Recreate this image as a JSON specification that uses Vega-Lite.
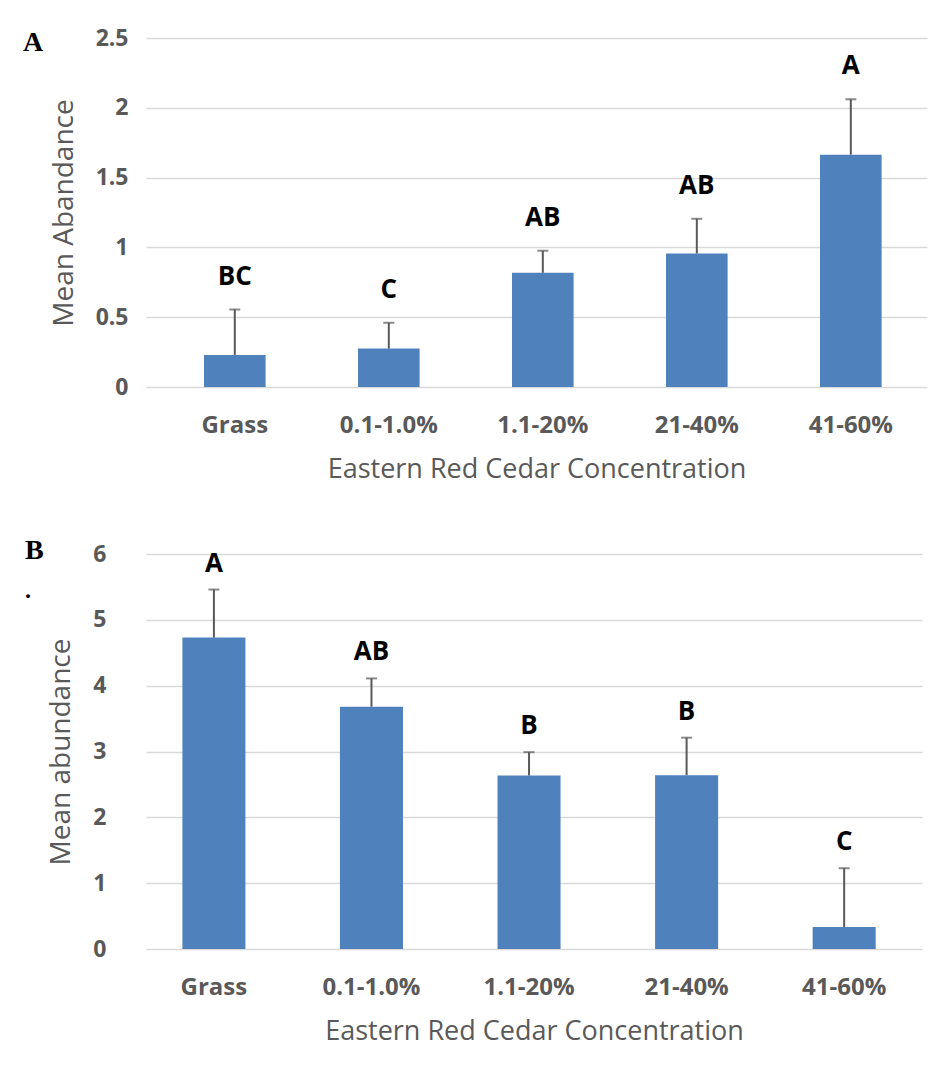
{
  "$schema": "https://vega.github.io/schema/vega-lite/v6.json",
  "background": "white",
  "padding": {"left": 23, "top": 27, "right": 5, "bottom": 5},
  "config": {
    "view": {"stroke": null},
    "font": "Open Sans",
    "axisX": {"domain": false, "ticks": false, "labelAngle": 0, "labelFont": "Open Sans", "labelFontWeight": "bold", "labelFontSize": 24, "labelColor": "#595959", "labelPadding": 26, "titleFont": "Open Sans", "titleFontWeight": "normal", "titleFontSize": 27, "titleColor": "#595959", "titlePadding": 19, "grid": false},
    "axisY": {"domain": false, "ticks": false, "grid": true, "gridColor": "#d9d9d9", "gridWidth": 1.5, "labelFont": "Open Sans", "labelFontWeight": "bold", "labelFontSize": 23, "labelColor": "#595959", "titleFont": "Open Sans", "titleFontWeight": "normal", "titleFontSize": 28, "titleColor": "#595959", "titlePadding": 17}
  },
  "vconcat": [
    {
      "width": 781,
      "height": 349,
      "title": {"text": "A", "anchor": "start", "frame": "group", "font": "Liberation Serif", "fontSize": 28, "fontWeight": "bold", "color": "black", "dx": -123, "baseline": "alphabetic", "offset": 0, "dy": 52},
      "data": {"values": [
        {"conc": "Grass", "mean": 0.23, "upper": 0.555, "letter": "BC"},
        {"conc": "0.1-1.0%", "mean": 0.275, "upper": 0.46, "letter": "C"},
        {"conc": "1.1-20%", "mean": 0.818, "upper": 0.976, "letter": "AB"},
        {"conc": "21-40%", "mean": 0.956, "upper": 1.205, "letter": "AB"},
        {"conc": "41-60%", "mean": 1.664, "upper": 2.061, "letter": "A"}
      ]},
      "encoding": {
        "x": {"field": "conc", "type": "nominal", "sort": null, "scale": {"paddingInner": 0.6, "paddingOuter": 0.3356, "align": 0.561}, "axis": {"title": "Eastern Red Cedar Concentration"}}
      },
      "layer": [
        {"mark": {"type": "bar", "color": "#4F81BD"}, "encoding": {"y": {"field": "mean", "type": "quantitative", "scale": {"domain": [0, 2.5], "nice": false}, "axis": {"title": "Mean Abandance", "values": [0, 0.5, 1, 1.5, 2, 2.5], "format": "~g", "labelPadding": 18}}}},
        {"mark": {"type": "rule", "color": "#595959", "strokeWidth": 2}, "encoding": {"y": {"field": "mean", "type": "quantitative"}, "y2": {"field": "upper"}}},
        {"mark": {"type": "tick", "color": "#595959", "thickness": 2, "size": 11, "orient": "horizontal"}, "encoding": {"y": {"field": "upper", "type": "quantitative"}}},
        {"mark": {"type": "text", "font": "Open Sans", "fontWeight": "bold", "fontSize": 26, "baseline": "alphabetic", "dy": -25, "color": "black"}, "encoding": {"y": {"field": "upper", "type": "quantitative"}, "text": {"field": "letter"}}}
      ]
    },
    {
      "width": 776,
      "height": 395,
      "title": {"text": "B", "subtitle": ".", "anchor": "start", "frame": "group", "font": "Liberation Serif", "fontSize": 28, "fontWeight": "bold", "color": "black", "subtitleFont": "Liberation Serif", "subtitleFontSize": 24, "subtitleFontWeight": "bold", "subtitleColor": "black", "subtitlePadding": 11, "dx": -121, "baseline": "alphabetic", "offset": 0, "dy": 82},
      "data": {"values": [
        {"conc": "Grass", "mean": 4.73, "upper": 5.46, "letter": "A"},
        {"conc": "0.1-1.0%", "mean": 3.68, "upper": 4.11, "letter": "AB"},
        {"conc": "1.1-20%", "mean": 2.635, "upper": 2.99, "letter": "B"},
        {"conc": "21-40%", "mean": 2.64, "upper": 3.21, "letter": "B"},
        {"conc": "41-60%", "mean": 0.334, "upper": 1.227, "letter": "C"}
      ]},
      "encoding": {
        "x": {"field": "conc", "type": "nominal", "sort": null, "scale": {"paddingInner": 0.6, "paddingOuter": 0.2625, "align": 0.44}, "axis": {"title": "Eastern Red Cedar Concentration"}}
      },
      "layer": [
        {"mark": {"type": "bar", "color": "#4F81BD"}, "encoding": {"y": {"field": "mean", "type": "quantitative", "scale": {"domain": [0, 6], "nice": false}, "axis": {"title": "Mean abundance", "values": [0, 1, 2, 3, 4, 5, 6], "format": "~g", "labelPadding": 40}}}},
        {"mark": {"type": "rule", "color": "#595959", "strokeWidth": 2}, "encoding": {"y": {"field": "mean", "type": "quantitative"}, "y2": {"field": "upper"}}},
        {"mark": {"type": "tick", "color": "#595959", "thickness": 2, "size": 11, "orient": "horizontal"}, "encoding": {"y": {"field": "upper", "type": "quantitative"}}},
        {"mark": {"type": "text", "font": "Open Sans", "fontWeight": "bold", "fontSize": 26, "baseline": "alphabetic", "dy": -18, "color": "black"}, "encoding": {"y": {"field": "upper", "type": "quantitative"}, "text": {"field": "letter"}}}
      ]
    }
  ],
  "spacing": 55
}
